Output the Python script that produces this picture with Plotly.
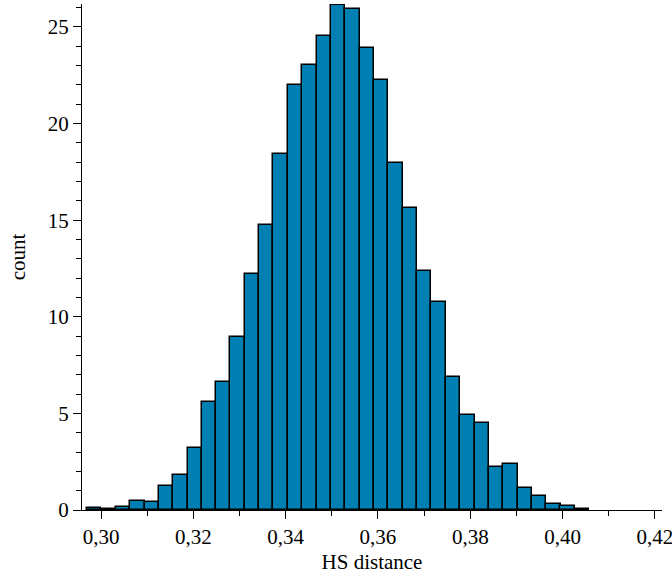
import plotly.graph_objects as go

# Bin centers (HS distance)
bin_centers = [0.2985, 0.3016, 0.3047, 0.3079, 0.3110, 0.3141, 0.3172, 0.3203,
               0.3234, 0.3265, 0.3296, 0.3327, 0.3358, 0.3389, 0.3421, 0.3452,
               0.3483, 0.3514, 0.3545, 0.3576, 0.3607, 0.3638, 0.3669, 0.3700,
               0.3731, 0.3763, 0.3794, 0.3825, 0.3856, 0.3887, 0.3918, 0.3949,
               0.3980, 0.4011, 0.4042]
# Bar heights (count axis)
counts = [0.12, 0.03, 0.16, 0.47, 0.40, 1.24, 1.81, 3.23, 5.61, 6.64,
          8.93, 12.23, 14.75, 18.41, 21.98, 23.03, 24.52, 26.12, 25.93, 23.93,
          22.27, 17.96, 15.62, 12.37, 10.78, 6.89, 4.90, 4.52, 2.24, 2.36,
          1.12, 0.74, 0.33, 0.19, 0.07]
x_ticks = [0.30, 0.32, 0.34, 0.36, 0.38, 0.40, 0.42]
y_ticks = [0, 5, 10, 15, 20, 25]

BIN_WIDTH = 0.003109
FONT = "Liberation Serif, Times New Roman, serif"

fig = go.Figure(go.Bar(
    x=bin_centers, y=counts, width=BIN_WIDTH,
    marker=dict(color="rgb(0,127,178)", line=dict(color="black", width=1.5)),
))

fig.update_layout(
    width=672, height=578,
    margin=dict(l=82, r=10, t=4, b=68),
    plot_bgcolor="white", paper_bgcolor="white",
    separators=",.",
    showlegend=False,
    font=dict(family=FONT, size=21, color="black"),
    bargap=0,
)
fig.update_xaxes(
    range=[0.29588, 0.42154],
    tickvals=x_ticks, tickformat=".2f", ticklabeloverflow="allow",
    ticks="outside", ticklen=8, tickcolor="black", tickwidth=1,
    minor=dict(dtick=0.01, tick0=0.30, ticks="outside", ticklen=5, tickcolor="black"),
    showline=True, linecolor="black", linewidth=1,
    showgrid=False, zeroline=False, automargin=False,
    title=dict(text="HS distance", font=dict(family=FONT, size=21), standoff=6),
)
fig.update_yaxes(
    range=[0, 26.19],
    tickvals=y_ticks,
    ticks="outside", ticklen=8, tickcolor="black", tickwidth=1,
    minor=dict(dtick=1, tick0=0, ticks="outside", ticklen=5, tickcolor="black"),
    showline=True, linecolor="black", linewidth=1,
    showgrid=False, zeroline=False, automargin=False,
    title=dict(text="count", font=dict(family=FONT, size=21), standoff=16),
)

fig.write_html("out.html", config={"displayModeBar": False},
               post_script="document.body.style.margin='0';")
